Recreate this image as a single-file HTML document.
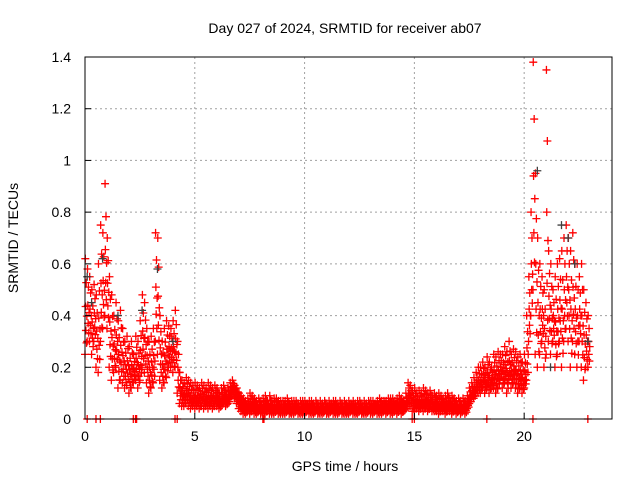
<!DOCTYPE html>
<html><head><meta charset="utf-8"><style>
body{margin:0;background:#fff}
svg{display:block;font-family:"Liberation Sans",sans-serif}
</style></head><body>
<svg id="chart" width="640" height="480" viewBox="0 0 640 480">
<rect width="640" height="480" fill="#fff"/>
<g id="grid"></g>
<g id="points"></g>
<rect x="85" y="57" width="527" height="362" fill="none" stroke="#000" stroke-width="1"/>
<g id="axes"></g>
<text x="345" y="33" text-anchor="middle" font-size="14">Day 027 of 2024, SRMTID for receiver ab07</text>
<text x="345" y="471" text-anchor="middle" font-size="14">GPS time / hours</text>
<text transform="translate(18,238) rotate(-90)" text-anchor="middle" font-size="14">SRMTID / TECUs</text>
</svg>
<script>
const xTicks=[0,5,10,15,20];
const yTicks=[0,0.2,0.4,0.6,0.8,1,1.2,1.4];
const yTickLabels=["0","0.2","0.4","0.6","0.8","1","1.2","1.4"];
const step=0.1;
const hiVals=[0.62,0.58,0.55,0.5,0.52,0.48,0.6,0.75,0.72,0.91,
0.7,0.55,0.48,0.4,0.45,0.38,0.42,0.35,0.3,0.32,
0.28,0.3,0.25,0.32,0.3,0.38,0.48,0.45,0.35,0.3,
0.32,0.35,0.72,0.7,0.4,0.3,0.35,0.38,0.36,0.35,
0.38,0.42,0.3,0.18,0.15,0.14,0.16,0.15,0.14,0.13,
0.14,0.13,0.12,0.14,0.13,0.12,0.14,0.13,0.12,0.13,
0.12,0.1,0.12,0.13,0.11,0.12,0.14,0.15,0.13,0.12,
0.1,0.09,0.08,0.07,0.08,0.1,0.09,0.08,0.07,0.08,
0.07,0.08,0.09,0.07,0.09,0.07,0.08,0.08,0.07,0.07,
0.07,0.07,0.08,0.06,0.07,0.07,0.07,0.06,0.07,0.07,
0.07,0.06,0.07,0.07,0.06,0.07,0.06,0.07,0.06,0.07,
0.06,0.07,0.06,0.07,0.07,0.06,0.07,0.06,0.07,0.06,
0.07,0.06,0.07,0.06,0.07,0.07,0.06,0.07,0.06,0.07,
0.07,0.07,0.06,0.07,0.08,0.07,0.07,0.07,0.08,0.08,
0.08,0.07,0.08,0.09,0.08,0.07,0.1,0.14,0.13,0.11,
0.12,0.1,0.11,0.1,0.12,0.11,0.1,0.11,0.09,0.1,
0.09,0.1,0.09,0.08,0.09,0.1,0.08,0.09,0.08,0.07,
0.08,0.07,0.08,0.07,0.09,0.12,0.14,0.16,0.18,0.2,
0.2,0.22,0.2,0.24,0.22,0.2,0.25,0.24,0.26,0.25,
0.25,0.28,0.26,0.3,0.25,0.27,0.26,0.24,0.25,0.22,
0.25,0.4,0.55,0.8,1.38,0.95,0.7,0.6,0.55,0.5,
1.35,0.65,0.6,0.5,0.55,0.6,0.62,0.65,0.7,0.75,
0.7,0.65,0.72,0.6,0.6,0.55,0.6,0.5,0.45,0.4];
const loVals=[0.25,0.3,0.3,0.25,0.3,0.2,0.18,0.3,0.35,0.4,
0.35,0.2,0.15,0.18,0.2,0.12,0.15,0.14,0.12,0.13,
0.1,0.12,0.14,0.15,0.12,0.15,0.2,0.18,0.14,0.1,
0.12,0.14,0.3,0.25,0.15,0.12,0.14,0.16,0.2,0.2,
0.18,0.2,0.1,0.06,0.05,0.05,0.06,0.05,0.04,0.05,
0.04,0.05,0.04,0.05,0.04,0.05,0.04,0.05,0.04,0.05,
0.05,0.04,0.05,0.06,0.05,0.06,0.08,0.1,0.08,0.06,
0.04,0.03,0.02,0.02,0.03,0.02,0.03,0.02,0.02,0.03,
0.02,0.02,0.02,0.03,0.02,0.02,0.02,0.03,0.02,0.02,
0.02,0.02,0.03,0.02,0.02,0.02,0.03,0.02,0.02,0.02,
0.02,0.03,0.02,0.02,0.02,0.03,0.02,0.02,0.02,0.03,
0.02,0.02,0.03,0.02,0.02,0.02,0.03,0.02,0.02,0.02,
0.02,0.03,0.02,0.02,0.02,0.03,0.02,0.02,0.02,0.03,
0.02,0.02,0.03,0.02,0.02,0.02,0.03,0.02,0.03,0.02,
0.02,0.03,0.02,0.03,0.02,0.03,0.04,0.06,0.05,0.03,
0.03,0.04,0.03,0.04,0.03,0.04,0.03,0.04,0.03,0.03,
0.03,0.02,0.03,0.03,0.02,0.03,0.03,0.02,0.03,0.02,
0.03,0.02,0.03,0.02,0.04,0.06,0.08,0.08,0.1,0.1,
0.1,0.12,0.1,0.12,0.1,0.12,0.12,0.1,0.12,0.15,
0.12,0.14,0.1,0.15,0.12,0.14,0.12,0.1,0.12,0.1,
0.12,0.15,0.3,0.4,0.5,0.25,0.2,0.25,0.3,0.2,
0.25,0.3,0.25,0.3,0.2,0.25,0.3,0.2,0.3,0.35,
0.3,0.2,0.3,0.25,0.2,0.3,0.2,0.15,0.2,0.2];
const grayHours=[0.1,0.3,0.8,1.5,2.6,3.3,4.0,20.6,21.2,21.7,22.0,22.3,22.9];
const grayVals=[0.55,0.45,0.62,0.4,0.42,0.58,0.3,0.96,0.2,0.75,0.7,0.6,0.3];
const zeroHours=[0.1,0.5,0.7,2.2,2.3,2.35,4.1,4.2,8.1,8.15,14.9,15.0,18.3,20.4,22.9];

const X0=85,X1=612,Y0=419,Y1=57,XMAX=24,YMAX=1.4;
const xs=v=>X0+(v/XMAX)*(X1-X0);
const ys=v=>Y0-(v/YMAX)*(Y0-Y1);
const NS="http://www.w3.org/2000/svg";
function mk(t,a,p){const e=document.createElementNS(NS,t);for(const k in a)e.setAttribute(k,a[k]);p.appendChild(e);return e;}
const grid=document.getElementById('grid'),axes=document.getElementById('axes'),pts=document.getElementById('points');
xTicks.forEach(t=>{
 const x=xs(t);
 if(t>0){const g=mk('line',{x1:x,x2:x,y1:Y1,y2:Y0,stroke:'#a0a0a0','stroke-dasharray':'2,3'},grid);
 
 }
 const tk=mk('line',{x1:x,x2:x,y1:Y0,y2:Y0-6,stroke:'#000'},axes);
 
 
 const tl=mk('text',{x:x,y:Y0+22,'text-anchor':'middle','font-size':'14'},axes);
 tl.textContent=String(t);
 
 
});
yTicks.forEach((t,i)=>{
 const y=ys(t);
 if(t>0&&t<YMAX){const g=mk('line',{x1:X0,x2:X1,y1:y,y2:y,stroke:'#a0a0a0','stroke-dasharray':'2,3'},grid);
 
 }
 const tk=mk('line',{x1:X0,x2:X0+6,y1:y,y2:y,stroke:'#000'},axes);
 
 
 const tl=mk('text',{x:X0-14,y:y+5,'text-anchor':'end','font-size':'14'},axes);
 tl.textContent=yTickLabels[i];
 
 
});
function plus(h,v,col){
 const x=xs(h),y=ys(v);
 return mk('path',{d:`M${x-4},${y}H${x+4}M${x},${y-4}V${y+4}`,stroke:col,'stroke-width':'1.3',fill:'none'},pts);
}
const fracs=[0,1,0.5,0.25,0.75,0.12,0.4];
hiVals.forEach((hv,i)=>{
 const h=i*step, lv=loVals[i];
 fracs.forEach((f,j)=>{
  const p=plus(h+j*0.014,lv+(hv-lv)*f,'#ff0000');
  
  
 });
});
grayHours.forEach((h,i)=>{
 const p=plus(h,grayVals[i],'#404040');
 
 
});
zeroHours.forEach(h=>{
 const p=plus(h,0,'#ff0000');
 
 
});
</script>
</body></html>
